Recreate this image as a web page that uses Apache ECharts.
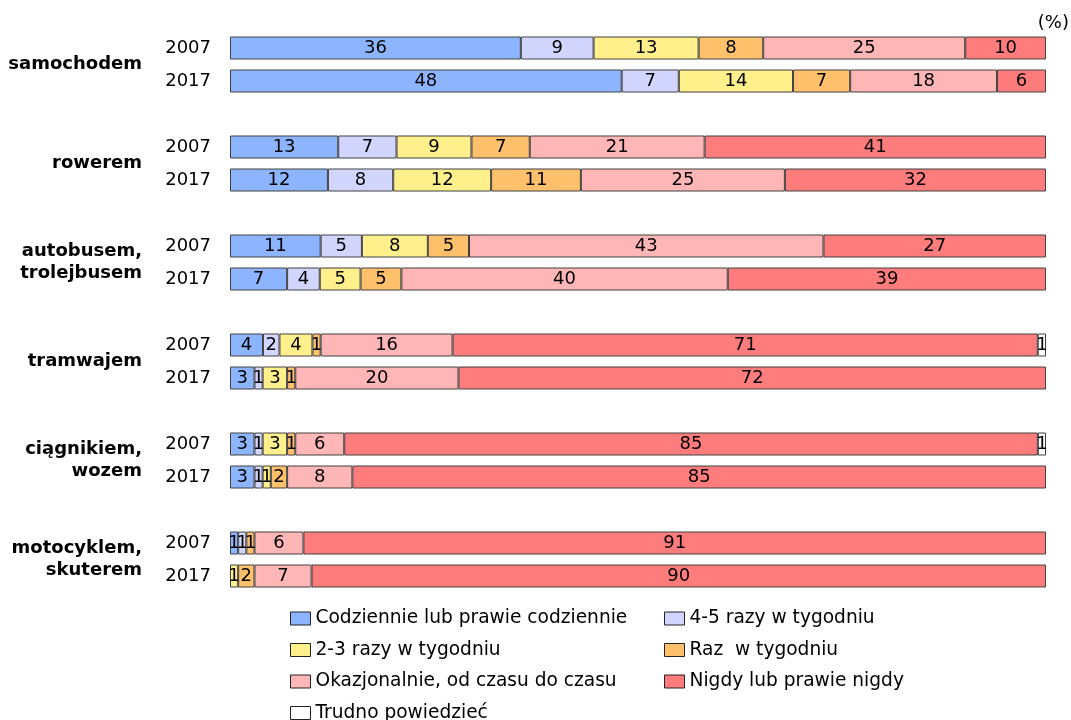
<!DOCTYPE html>
<html>
<head>
<meta charset="utf-8">
<script src="https://cdn.jsdelivr.net/npm/echarts@6/dist/echarts.min.js"></script>
<style>
	html,body{margin:0;padding:0;background:#fff;}
	#chart{width:1071px;height:720px;}
</style>
</head>
<body>
<div id="chart"></div>
<script>
// grupy i lata
var groups = ['samochodem', 'rowerem', 'autobusem,\ntrolejbusem', 'tramwajem', 'ciągnikiem,\nwozem', 'motocyklem,\nskuterem'];
var years = ['2007', '2017'];

// wartości (%) - po 2 wiersze na grupę: 2007, 2017
var codziennie   = [36, 48, 13, 12, 11, 7, 4, 3, 3, 3, 1, 0];
var razy45       = [9, 7, 7, 8, 5, 4, 2, 1, 1, 1, 1, 0];
var razy23       = [13, 14, 9, 12, 8, 5, 4, 3, 3, 1, 0, 1];
var razWTyg      = [8, 7, 7, 11, 5, 5, 1, 1, 1, 2, 1, 2];
var okazjonalnie = [25, 18, 21, 25, 43, 40, 16, 20, 6, 8, 6, 7];
var nigdy        = [10, 6, 41, 32, 27, 39, 71, 72, 85, 85, 91, 90];
var trudno       = [0, 0, 0, 0, 0, 0, 1, 0, 1, 0, 0, 0];

var seriesNames = ['Codziennie lub prawie codziennie', '4-5 razy w tygodniu', '2-3 razy w tygodniu', 'Raz  w tygodniu', 'Okazjonalnie, od czasu do czasu', 'Nigdy lub prawie nigdy', 'Trudno powiedzieć'];
var seriesData = [codziennie, razy45, razy23, razWTyg, okazjonalnie, nigdy, trudno];
var colors = ['#8cb4ff', '#d2d6ff', '#fff08c', '#ffc06c', '#ffb6b6', '#ff7c7c', '#ffffff'];

var FONT = 'DejaVu Sans, Liberation Sans, sans-serif';

// kategorie z pustym wierszem między grupami
var cats = [];
var rowIndex = []; // slot -> indeks wiersza danych lub -1
groups.forEach(function(g, gi){
	years.forEach(function(y, yi){
		cats.push(y);
		rowIndex.push(gi * 2 + yi);
	});
	if(gi < groups.length - 1){
		cats.push('');
		rowIndex.push(-1);
	}
});

// suma wiersza (słupki wypełniają 100%)
var rowSum = [];
for(var r = 0; r < codziennie.length; r++){
	var s = 0;
	seriesData.forEach(function(arr){ s += arr[r]; });
	rowSum.push(s);
}

var series = seriesData.map(function(arr, si){
	return {
		name: seriesNames[si],
		type: 'bar',
		stack: 'all',
		yAxisIndex: 0,
		barWidth: 23,
		itemStyle: {color: colors[si], borderColor: '#404040', borderWidth: 1},
		label: {
			show: true,
			position: 'inside',
			color: '#000',
			fontSize: 18,
			fontFamily: FONT,
			formatter: function(p){ return p.data.raw ? String(p.data.raw) : ''; }
		},
		data: rowIndex.map(function(ri){
			if(ri < 0 || arr[ri] === 0) return {value: '-', raw: 0};
			return {value: arr[ri] / rowSum[ri] * 100, raw: arr[ri]};
		})
	};
});

var legendBase = {
	orient: 'vertical',
	top: 604,
	height: 120,
	icon: 'rect',
	itemWidth: 20,
	itemHeight: 13,
	itemGap: 12.5,
	selectedMode: false,
	textStyle: {fontSize: 18.6, color: '#000', lineHeight: 19, fontFamily: FONT},
	itemStyle: {borderColor: '#222', borderWidth: 1}
};

var chart = echarts.init(document.getElementById('chart'));
var option = {
	animation: false,
	textStyle: {fontFamily: FONT},
	title: {
		text: '(%)',
		right: -3,
		top: 9,
		textStyle: {fontSize: 18, fontWeight: 'normal', color: '#000', fontFamily: FONT}
	},
	grid: {left: 230, right: 25, top: 31.5, height: 561},
	xAxis: {type: 'value', min: 0, max: 100, show: false},
	yAxis: [
		{
			type: 'category',
			data: cats,
			inverse: true,
			axisLine: {show: false},
			axisTick: {show: false},
			axisLabel: {color: '#000', fontSize: 18, margin: 19, fontFamily: FONT}
		},
		{
			// etykiety grup
			type: 'value',
			min: 0,
			max: cats.length,
			interval: 1,
			inverse: true,
			position: 'left',
			axisLine: {show: false},
			axisTick: {show: false},
			splitLine: {show: false},
			axisLabel: {
				color: '#000',
				fontSize: 18,
				fontWeight: 'bold',
				fontFamily: FONT,
				lineHeight: 22,
				margin: 88,
				showMinLabel: true,
				showMaxLabel: true,
				formatter: function(v){
					return v % 3 === 1 ? groups[(v - 1) / 3] : '';
				}
			}
		}
	],
	legend: [
		Object.assign({}, legendBase, {
			left: 285,
			data: [seriesNames[0], seriesNames[2], seriesNames[4], seriesNames[6]]
		}),
		Object.assign({}, legendBase, {
			left: 659,
			data: [seriesNames[1], seriesNames[3], seriesNames[5]]
		})
	],
	series: series
};
chart.setOption(option);
</script>
</body>
</html>
